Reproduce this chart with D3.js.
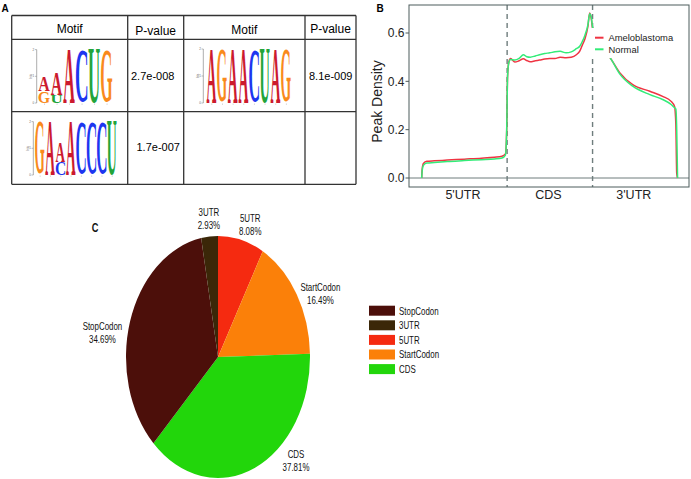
<!DOCTYPE html>
<html lang="en">
<head>
<meta charset="utf-8">
<title>Motifs, peak density and peak distribution</title>
<script src="https://d3js.org/d3.v7.min.js"></script>
<style>
  body { margin: 0; background: #fff; }
  svg { display: block; font-family: "Liberation Sans", Arial, sans-serif; }
</style>
</head>
<body>
<script>
// ---- panel A: motif table ----
var tableHeaders = ["Motif", "P-value", "Motif", "P-value"];
var motifPvalues = ["2.7e-008", "8.1e-009", "1.7e-007"];
// each motif: list of columns, each column a stack of [letter, bits] from bottom up
var motif1 = [[["G", 0.44], ["A", 0.5]], [["U", 0.31], ["A", 0.81]], [["A", 2]], [["C", 1.96]], [["U", 2]], [["G", 1.96]]];
var motif2 = [[["A", 1.96]], [["G", 1.96]], [["A", 1.98]], [["A", 1.98]], [["C", 1.94]], [["U", 1.98]], [["A", 1.96]], [["G", 1.96]]];
var motif3 = [[["G", 1.97]], [["A", 1.97]], [["C", 0.5], ["A", 0.75]], [["A", 1.98]], [["C", 1.96]], [["C", 1.96]], [["C", 1.96]], [["U", 1.98]]];
var baseColors = {A: "#cc1a2e", C: "#1d36f0", G: "#f98a1c", U: "#22a43a"};

// ---- panel B: metagene peak density ----
var regionLabels = ["5'UTR", "CDS", "3'UTR"];
var densityPos = [0, 0.005, 0.02, 0.06, 0.15, 0.3, 0.5, 0.7, 0.85, 0.94, 0.98, 0.995, 1.005, 1.02, 1.04, 1.09, 1.14, 1.19, 1.23, 1.27, 1.33, 1.38, 1.44, 1.5, 1.56, 1.62, 1.69, 1.75, 1.81, 1.85, 1.88, 1.91, 1.946, 1.966, 1.985, 2.0, 2.05, 2.12, 2.22, 2.32, 2.47, 2.67, 2.82, 2.92, 2.96, 2.975, 2.985, 2.995];
var ameloDensity = [0, 0.035, 0.06, 0.069, 0.071, 0.074, 0.078, 0.082, 0.086, 0.09, 0.1, 0.2, 0.42, 0.48, 0.495, 0.48, 0.485, 0.493, 0.486, 0.481, 0.485, 0.488, 0.492, 0.494, 0.494, 0.5, 0.498, 0.5, 0.51, 0.525, 0.55, 0.575, 0.628, 0.683, 0.66, 0.62, 0.58, 0.54, 0.49, 0.435, 0.386, 0.359, 0.338, 0.317, 0.296, 0.22, 0.02, 0];
var normalDensity = [0, 0.028, 0.052, 0.062, 0.064, 0.068, 0.072, 0.076, 0.079, 0.083, 0.095, 0.2, 0.42, 0.478, 0.49, 0.488, 0.495, 0.51, 0.502, 0.5, 0.505, 0.51, 0.515, 0.518, 0.522, 0.524, 0.518, 0.522, 0.535, 0.545, 0.565, 0.59, 0.635, 0.68, 0.665, 0.625, 0.585, 0.54, 0.49, 0.43, 0.38, 0.345, 0.325, 0.304, 0.29, 0.285, 0.2, 0];
var densitySeries = ["Ameloblastoma", "Normal"];
var densityColors = ["#ef3342", "#33ec78"];
var yTicks = [0, 0.2, 0.4, 0.6];

// ---- panel C: peak distribution pie ----
var pieCategories = ["5UTR", "StartCodon", "CDS", "StopCodon", "3UTR"];
var piePercent = [8.08, 16.49, 37.81, 34.69, 2.93];
var pieColors = ["#f52a10", "#fb8009", "#22d60b", "#4c0f0a", "#3b2708"];
var legendOrder = ["StopCodon", "3UTR", "5UTR", "StartCodon", "CDS"];

var W = 691, H = 479;
var svg = d3.select("body").append("svg").attr("width", W).attr("height", H);
svg.append("rect").attr("width", W).attr("height", H).attr("fill", "#fff");

// panel letters
svg.append("text").attr("x", 1.5).attr("y", 11.8).attr("font-size", 10).attr("font-weight", "bold").text("A");
svg.append("text").attr("x", 376.5).attr("y", 11.8).attr("font-size", 10).attr("font-weight", "bold").text("B");

// =========== A ===========
var colX = [11.7, 127.7, 183.7, 305, 356];
var rowY = [15.5, 39.3, 111.7, 184.3];
var tbl = svg.append("g");
colX.forEach(function(x) {
  tbl.append("line").attr("x1", x).attr("x2", x).attr("y1", rowY[0]).attr("y2", rowY[3])
    .attr("stroke", "#333").attr("stroke-width", 1.3);
});
rowY.forEach(function(y) {
  tbl.append("line").attr("x1", colX[0]).attr("x2", colX[4]).attr("y1", y).attr("y2", y)
    .attr("stroke", "#333").attr("stroke-width", 1.3);
});
var headerBase = [32.5, 35, 34, 32.5];
tableHeaders.forEach(function(h, i) {
  tbl.append("text").attr("x", (colX[i] + colX[i + 1]) / 2).attr("y", headerBase[i])
    .attr("text-anchor", "middle").attr("font-size", 12).text(h);
});
tbl.append("text").attr("x", 131).attr("y", 80).attr("font-size", 11).text(motifPvalues[0]);
tbl.append("text").attr("x", 309).attr("y", 79.5).attr("font-size", 11).text(motifPvalues[1]);
tbl.append("text").attr("x", 136.5).attr("y", 150.5).attr("font-size", 11).text(motifPvalues[2]);

// glyph ink metrics from canvas so letters can be stretched to exact boxes
var ctx = document.createElement("canvas").getContext("2d");
ctx.font = 'bold 100px "Liberation Serif"';
var glyph = {};
["A", "C", "G", "U"].forEach(function(ch) {
  var m = ctx.measureText(ch);
  glyph[ch] = {l: -m.actualBoundingBoxLeft, r: m.actualBoundingBoxRight,
               t: -m.actualBoundingBoxAscent, b: m.actualBoundingBoxDescent};
});

function drawLogo(motif, axisX, y0, pxPerBit, startX, colW) {
  var g = svg.append("g");
  var yb = d3.scaleLinear().domain([0, 2]).range([y0, y0 - 2 * pxPerBit]);
  g.append("line").attr("x1", axisX).attr("x2", axisX).attr("y1", yb(0)).attr("y2", yb(2))
    .attr("stroke", "#777").attr("stroke-width", 0.6);
  [0, 1, 2].forEach(function(t) {
    g.append("line").attr("x1", axisX - 1.8).attr("x2", axisX).attr("y1", yb(t)).attr("y2", yb(t))
      .attr("stroke", "#777").attr("stroke-width", 0.5);
    g.append("text").attr("x", axisX - 2.5).attr("y", yb(t) + 1).attr("font-size", 3)
      .attr("text-anchor", "end").attr("fill", "#666").text(t);
  });
  g.append("text").attr("transform", "translate(" + (axisX - 4.5) + "," + yb(1) + ") rotate(-90)")
    .attr("font-size", 3).attr("text-anchor", "middle").attr("fill", "#666").text("bits");
  motif.forEach(function(col, i) {
    var x0 = startX + i * colW, w = colW * 0.92;
    g.append("line").attr("x1", x0 + colW / 2).attr("x2", x0 + colW / 2)
      .attr("y1", y0 + 0.5).attr("y2", y0 + 1.8).attr("stroke", "#888").attr("stroke-width", 0.4);
    var acc = 0;
    col.forEach(function(c) {
      var gm = glyph[c[0]];
      var top = yb(acc + c[1]), bot = yb(acc);
      var sx = w / (gm.r - gm.l), sy = (bot - top) / (gm.b - gm.t);
      g.append("text")
        .attr("transform", "translate(" + x0 + "," + top + ") scale(" + sx + "," + sy + ") translate(" + (-gm.l) + "," + (-gm.t) + ")")
        .attr("font-family", '"Liberation Serif", serif').attr("font-weight", "bold")
        .attr("font-size", 100).attr("fill", baseColors[c[0]]).text(c[0]);
      acc += c[1];
    });
  });
}
drawLogo(motif1, 36.7, 103, 26.7, 38.3, 12.5);
drawLogo(motif2, 203.3, 103, 27, 206.5, 10.65);
drawLogo(motif3, 33.3, 175, 26.7, 35, 10.3);

// =========== B ===========
var panel = {left: 409, right: 689, top: 5, bottom: 187};
var x = d3.scaleLinear().domain([0, 3]).range([421.7, 678]);
var y = d3.scaleLinear().domain([0, 0.6]).range([178, 33]);
var gb = svg.append("g");

gb.append("line").attr("x1", panel.left).attr("x2", panel.right).attr("y1", y(0)).attr("y2", y(0))
  .attr("stroke", "#6f7d7d").attr("stroke-width", 1);
[1, 2].forEach(function(v) {
  gb.append("line").attr("x1", x(v)).attr("x2", x(v)).attr("y1", panel.top).attr("y2", panel.bottom)
    .attr("stroke", "#6f7d7d").attr("stroke-width", 1.4).attr("stroke-dasharray", "5,4");
});

var line = d3.line().curve(d3.curveMonotoneX)
  .x(function(d) { return x(d[0]); }).y(function(d) { return y(d[1]); });
[ameloDensity, normalDensity].forEach(function(vals, k) {
  gb.append("path").datum(densityPos.map(function(p, i) { return [p, vals[i]]; }))
    .attr("d", line).attr("fill", "none").attr("stroke", densityColors[k]).attr("stroke-width", 1.5);
});

// legend (white box sits over the plot as in ggplot)
var lg = gb.append("g");
lg.append("rect").attr("x", 590).attr("y", 28).attr("width", 72).attr("height", 30).attr("fill", "#fff");
densitySeries.forEach(function(s, i) {
  var yy = 37.7 + i * 11.6;
  lg.append("line").attr("x1", 595).attr("x2", 603.5).attr("y1", yy).attr("y2", yy)
    .attr("stroke", densityColors[i]).attr("stroke-width", 2);
  lg.append("text").attr("x", 608.5).attr("y", yy + 3.3).attr("font-size", 9.4).attr("fill", "#222").text(s);
});

gb.append("rect").attr("x", panel.left).attr("y", panel.top)
  .attr("width", panel.right - panel.left).attr("height", panel.bottom - panel.top)
  .attr("fill", "none").attr("stroke", "#4d5c5c").attr("stroke-width", 1);

yTicks.forEach(function(t) {
  gb.append("line").attr("x1", panel.left - 3.5).attr("x2", panel.left).attr("y1", y(t)).attr("y2", y(t))
    .attr("stroke", "#4d5c5c").attr("stroke-width", 1);
  gb.append("text").attr("x", panel.left - 4.5).attr("y", y(t) + 4.3).attr("text-anchor", "end")
    .attr("font-size", 12).attr("fill", "#222").text(d3.format(".1f")(t));
});
regionLabels.forEach(function(r, i) {
  gb.append("text").attr("x", x(i + 0.5) - 1.5).attr("y", 199).attr("text-anchor", "middle")
    .attr("font-size", 12.5).attr("fill", "#222").text(r);
});
gb.append("text").attr("transform", "translate(382,101.5) rotate(-90)").attr("text-anchor", "middle")
  .attr("font-size", 14).attr("fill", "#222").text("Peak Density");

// =========== C ===========
var narrow = 0.74;
function narrowText(g, tx, ty, str, anchor, size, weight) {
  return g.append("text").attr("transform", "translate(" + tx + "," + ty + ") scale(" + narrow + ",1)")
    .attr("text-anchor", anchor || "middle").attr("font-size", size || 10.7)
    .attr("font-weight", weight || "normal").attr("fill", "#111").text(str);
}
var gc = svg.append("g");
narrowText(gc, 95, 231.5, "C", "middle", 12.5, "bold");

var cx = 218, cy = 357, rx = 92, ry = 121;
var pie = d3.pie().sort(null).value(function(d) { return d; });
var arcs = pie(piePercent);
var arc = d3.arc().innerRadius(0).outerRadius(rx);
gc.append("g").attr("transform", "translate(" + cx + "," + cy + ") scale(1," + (ry / rx) + ")")
  .selectAll("path").data(arcs).enter().append("path")
  .attr("d", arc).attr("fill", function(d, i) { return pieColors[i]; });

// label positions: outward along slice mid-angle, small per-label nudges
var labelNudge = {"5UTR": [4.5, -1], "StartCodon": [8, 7], "CDS": [34, -21], "StopCodon": [-10, 15], "3UTR": [1, -3]};
arcs.forEach(function(a, i) {
  var mid = (a.startAngle + a.endAngle) / 2;
  var name = pieCategories[i], nd = labelNudge[name];
  var lx = cx + Math.sin(mid) * rx * 1.2 + nd[0];
  var ly = cy - Math.cos(mid) * ry * 1.12 + nd[1];
  narrowText(gc, lx, ly - 2.7, name);
  narrowText(gc, lx, ly + 10.3, d3.format(".2f")(piePercent[i]) + "%");
});

legendOrder.forEach(function(name, i) {
  var yy = 310.7 + i * 14.6;
  gc.append("rect").attr("x", 369).attr("y", yy - 5).attr("width", 26).attr("height", 10)
    .attr("fill", pieColors[pieCategories.indexOf(name)]);
  narrowText(gc, 399, yy + 3.8, name, "start");
});
</script>
</body>
</html>
